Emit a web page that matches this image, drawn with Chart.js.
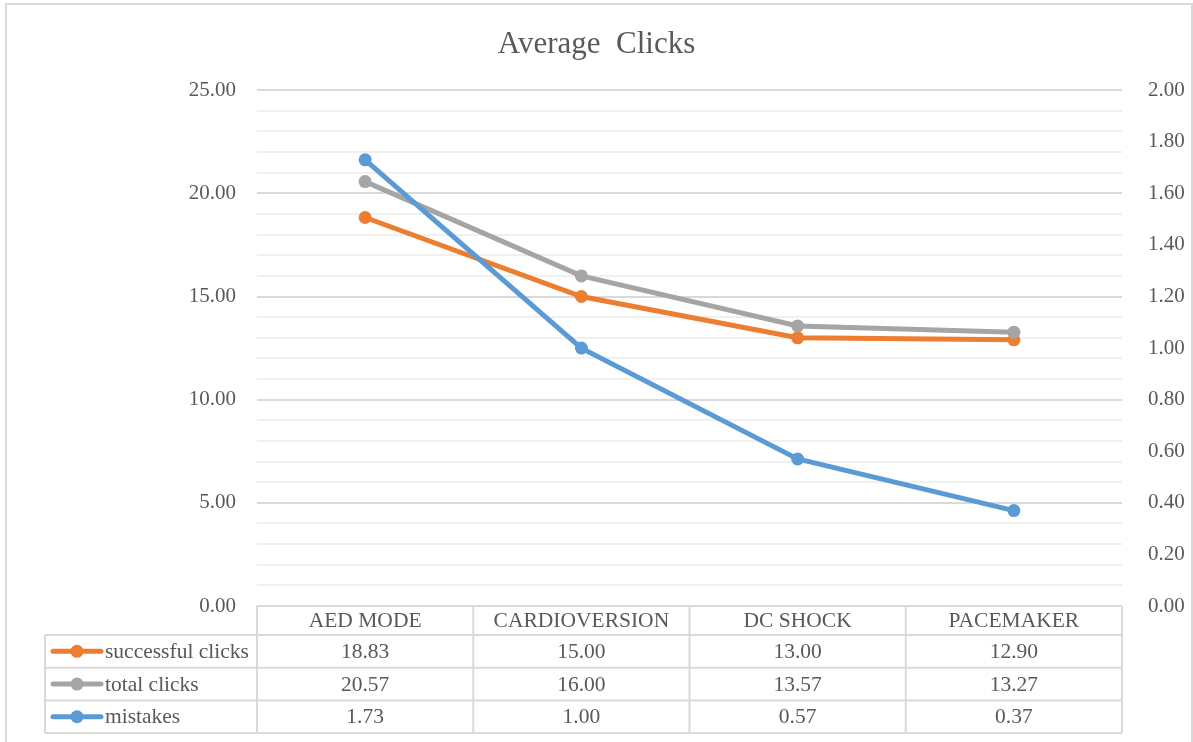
<!DOCTYPE html>
<html lang="en">
<head>
<meta charset="UTF-8"/>
<title>Average Clicks</title>
<style>
    html, body {
        margin: 0;
        background: #ffffff;
        overflow: hidden;
    }
    #wrap {
        width: 1193px;
        height: 742px;
    }
</style>
</head>
<body>
<div id="wrap">
    <canvas id="clicksChart" width="1193" height="742"></canvas>
</div>

<script src="https://cdn.jsdelivr.net/npm/chart.js"></script>
<script>
// values
const categories = ['AED MODE', 'CARDIOVERSION', 'DC SHOCK', 'PACEMAKER'];
const successfulClicks = [18.83, 15.00, 13.00, 12.90];
const totalClicks = [20.57, 16.00, 13.57, 13.27];
const mistakes = [1.73, 1.00, 0.57, 0.37];
const seriesNames = ['successful clicks', 'total clicks', 'mistakes'];
const seriesColors = ['#ED7D31', '#A5A5A5', '#5B9BD5'];

const FONT = "'Liberation Serif', 'Times New Roman', serif";
const TEXT = '#595959';
const LINE = '#d9d9d9';

// outer chart frame
const framePlugin = {
    id: 'frame',
    beforeDraw(chart) {
        const ctx = chart.ctx;
        ctx.save();
        ctx.strokeStyle = LINE;
        ctx.lineWidth = 2;
        ctx.strokeRect(6, 4, chart.width - 7, chart.height + 10);
        ctx.restore();
    }
};

// Excel style data table under the plot
const dataTablePlugin = {
    id: 'dataTable',
    afterDraw(chart) {
        const ctx = chart.ctx;
        const area = chart.chartArea;
        const xScale = chart.scales.x;
        const colW = (area.right - area.left) / categories.length;
        const headerTop = area.bottom;
        const headerH = 29;
        const rowH = 32.7;
        const legendLeft = 45;
        const rowsTop = headerTop + headerH;
        const tableBottom = rowsTop + rowH * chart.data.datasets.length;

        ctx.save();
        ctx.strokeStyle = LINE;
        ctx.lineWidth = 2;
        ctx.beginPath();
        // header top
        ctx.moveTo(area.left, headerTop);
        ctx.lineTo(area.right, headerTop);
        // row lines
        for (let r = 0; r <= chart.data.datasets.length; r++) {
            const y = rowsTop + r * rowH;
            ctx.moveTo(legendLeft, y);
            ctx.lineTo(area.right, y);
        }
        // column lines
        ctx.moveTo(legendLeft, rowsTop);
        ctx.lineTo(legendLeft, tableBottom);
        for (let c = 0; c <= categories.length; c++) {
            const x = area.left + c * colW;
            ctx.moveTo(x, headerTop);
            ctx.lineTo(x, tableBottom);
        }
        ctx.stroke();

        ctx.fillStyle = TEXT;
        ctx.font = '21.5px ' + FONT;
        ctx.textAlign = 'center';
        ctx.textBaseline = 'middle';
        categories.forEach((cat, i) => {
            ctx.fillText(cat, xScale.getPixelForValue(i), headerTop + headerH / 2 + 1);
        });

        chart.data.datasets.forEach((ds, r) => {
            const yMid = rowsTop + r * rowH + rowH / 2 + 1;
            ds.data.forEach((v, i) => {
                ctx.fillStyle = TEXT;
                ctx.textAlign = 'center';
                ctx.fillText(v.toFixed(2), xScale.getPixelForValue(i), yMid);
            });
            // legend key
            ctx.strokeStyle = ds.borderColor;
            ctx.lineWidth = 5;
            ctx.lineCap = 'round';
            ctx.beginPath();
            ctx.moveTo(53, yMid - 1);
            ctx.lineTo(101, yMid - 1);
            ctx.stroke();
            ctx.fillStyle = ds.borderColor;
            ctx.beginPath();
            ctx.arc(77, yMid - 1, 6.5, 0, Math.PI * 2);
            ctx.fill();
            ctx.fillStyle = TEXT;
            ctx.textAlign = 'left';
            ctx.fillText(ds.label, 105, yMid);
        });
        ctx.restore();
    }
};

function lineSet(label, data, color, axis, order) {
    return {
        label: label,
        data: data,
        yAxisID: axis,
        order: order,
        borderColor: color,
        backgroundColor: color,
        pointBackgroundColor: color,
        pointBorderColor: color,
        borderWidth: 5,
        pointRadius: 6.5,
        pointBorderWidth: 0,
        tension: 0,
        fill: false
    };
}

const ctx = document.getElementById('clicksChart').getContext('2d');
new Chart(ctx, {
    type: 'line',
    data: {
        labels: categories,
        datasets: [
            lineSet(seriesNames[0], successfulClicks, seriesColors[0], 'y', 3),
            lineSet(seriesNames[1], totalClicks, seriesColors[1], 'y', 2),
            lineSet(seriesNames[2], mistakes, seriesColors[2], 'y1', 1)
        ]
    },
    options: {
        responsive: false,
        animation: false,
        devicePixelRatio: 1,
        layout: {
            padding: { left: 0, right: 0, top: 0, bottom: 136 }
        },
        plugins: {
            legend: { display: false },
            tooltip: { enabled: false },
            title: {
                display: true,
                text: 'Average  Clicks',
                color: TEXT,
                font: { family: FONT, size: 31, weight: 'normal', lineHeight: 1.2 },
                padding: { top: 26, bottom: 27 }
            }
        },
        scales: {
            x: {
                type: 'category',
                display: false,
                offset: true
            },
            y: {
                position: 'left',
                min: 0,
                max: 25,
                afterFit(scale) { scale.width = 257; },
                border: { display: false },
                grid: {
                    drawTicks: false,
                    lineWidth: 2,
                    color: c => (c.tick && c.tick.value % 5 === 0) ? '#d9d9d9' : '#f0f0f0'
                },
                ticks: {
                    stepSize: 1,
                    autoSkip: false,
                    padding: 21,
                    color: TEXT,
                    font: { family: FONT, size: 21 },
                    callback: v => (v % 5 === 0) ? v.toFixed(2) : ''
                }
            },
            y1: {
                position: 'right',
                min: 0,
                max: 2,
                afterFit(scale) { scale.width = 71; },
                border: { display: false },
                grid: { display: false, drawOnChartArea: false },
                ticks: {
                    stepSize: 0.2,
                    padding: 18,
                    color: TEXT,
                    font: { family: FONT, size: 21 },
                    callback: v => Number(v).toFixed(2)
                }
            }
        }
    },
    plugins: [framePlugin, dataTablePlugin]
});
</script>
</body>
</html>
